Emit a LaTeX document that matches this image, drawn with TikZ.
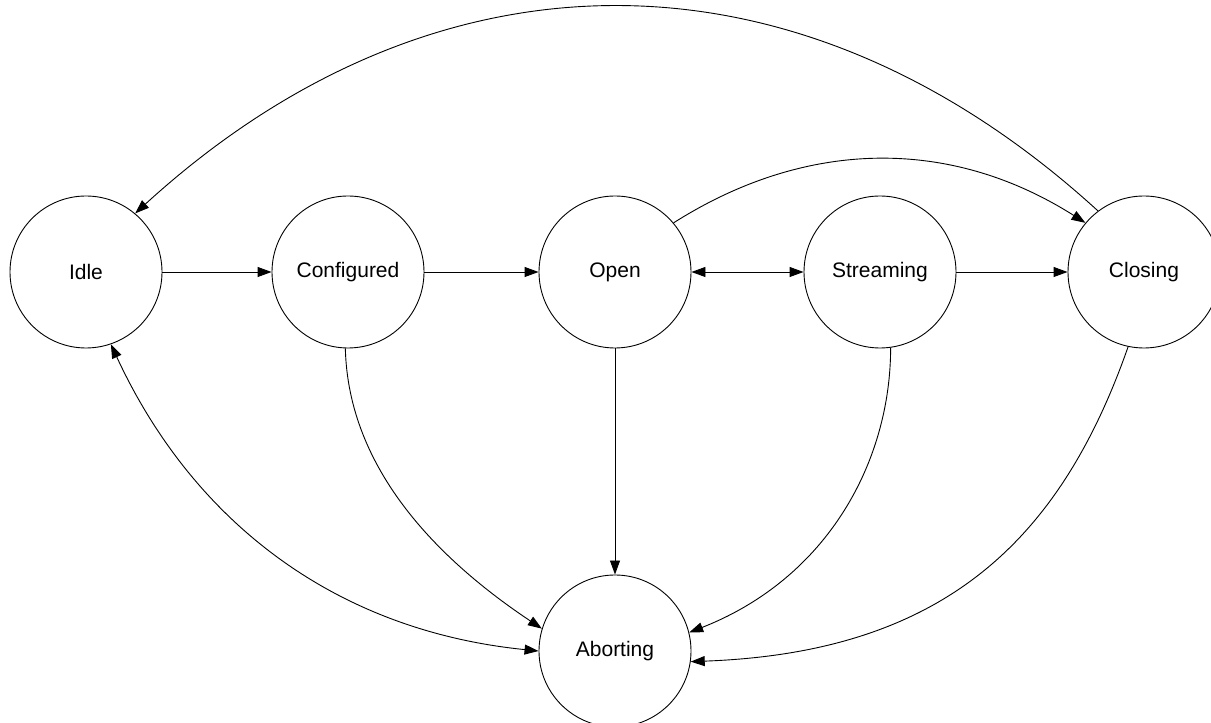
\documentclass[tikz,border=0pt]{standalone}
\usepackage{fontspec}
\setmainfont{Liberation Sans}
\usepackage{tikz}
\usetikzlibrary{arrows.meta}
\usetikzlibrary{positioning}

\begin{document}
\begin{tikzpicture}[x=1pt, y=1pt,
    state/.style={draw, circle, minimum size=152pt, inner sep=0pt, line width=0.9pt,
                  font=\fontsize{21}{25}\selectfont},
    edge/.style={line width=0.9pt, >={Triangle[length=14pt, width=10pt]}}]

    \useasboundingbox (0,0) rectangle (1211,723);

    % states
    \node [state] (idle)       at (86,451)  {Idle};
    \node [state] (configured) at (348,451) {Configured};
    \node [state] (open)       at (615,451) {Open};
    \node [state] (streaming)  at (880,451) {Streaming};
    \node [state] (closing)    at (1144,451){Closing};
    \node [state] (aborting)   at (615,72)  {Aborting};

    % straight transitions
    \draw [edge, ->]  (idle) -- (configured);
    \draw [edge, ->]  (configured) -- (open);
    \draw [edge, <->] (open) -- (streaming);
    \draw [edge, ->]  (streaming) -- (closing);
    \draw [edge, ->]  (open) -- (aborting);

    % arcs over the top
    \draw [edge, ->] (closing.127) .. controls +(-300,274) and +(300,274) .. (idle.50);
    \draw [edge, ->] (open.40) .. controls +(134,85) and +(-134,85) .. (closing.140);

    % arcs down to aborting
    \draw [edge, <->] (idle.289) .. controls +(80,-173) and +(-208,21) .. (aborting.180);
    \draw [edge, ->] (configured.268) .. controls +(3,-122) and +(-102,68) .. (aborting.163);
    \draw [edge, ->] (streaming.278) .. controls +(0,-112) and +(140,55) .. (aborting.14);
    \draw [edge, ->] (closing.258) .. controls +(-69,-197) and +(250,9) .. (aborting.352);

\end{tikzpicture}
\end{document}
